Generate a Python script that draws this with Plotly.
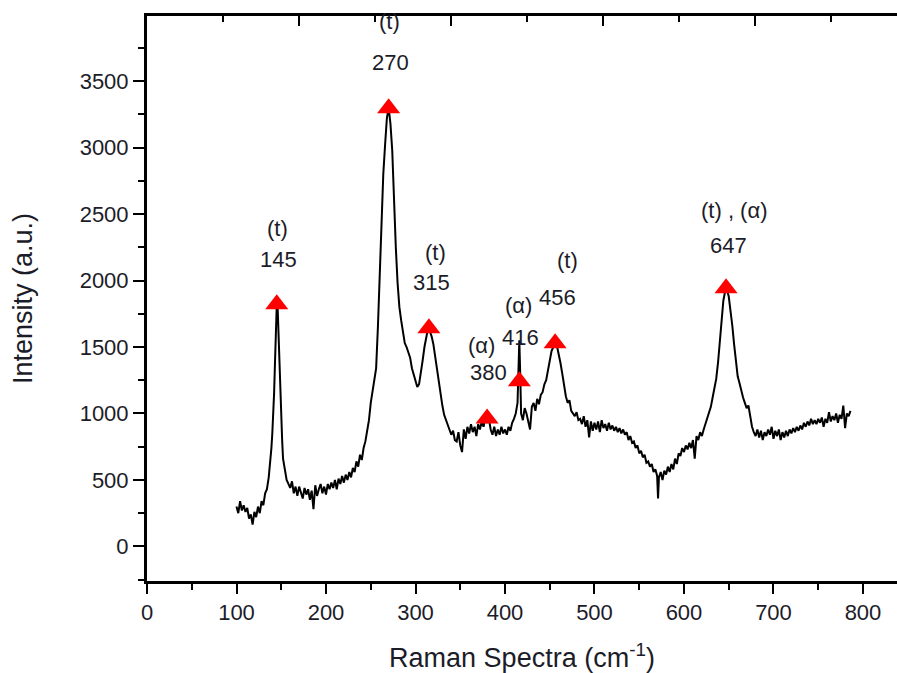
import plotly.graph_objects as go

# ---------------- data ----------------
wavenumber = [
    # 100-130
    100, 102, 104, 106, 108, 110, 112, 114, 116, 118, 120, 122, 124, 126, 128, 130,
    # 132-166 (145 peak)
    132, 134, 136, 138, 139, 140, 141, 142, 143, 144, 145, 146, 147, 148, 149, 150,
    151, 152, 154, 156, 158, 160, 162, 164, 166,
    # 168-244
    168, 170, 172, 174, 176, 178, 180, 182, 184, 186, 188, 190, 192, 194, 196, 198,
    200, 202, 204, 206, 208, 210, 212, 214, 216, 218, 220, 222, 224, 226, 228, 230,
    232, 234, 236, 238, 240, 242, 244,
    # 246-304 (270 peak)
    246, 248, 250, 252, 254, 256, 258, 260, 262, 264, 266, 268, 270, 272, 274, 276,
    278, 280, 282, 284, 286, 288, 290, 292, 294, 296, 298, 300, 302, 304,
    # 306-346 (315 peak)
    306, 308, 310, 312, 314, 316, 318, 320, 322, 324, 326, 328, 330, 332, 334, 336,
    338, 340, 342, 344, 346,
    # 348-414
    348, 350, 352, 354, 356, 358, 360, 362, 364, 366, 368, 370, 372, 374, 376, 378,
    380, 382, 384, 386, 388, 390, 392, 394, 396, 398, 400, 402, 404, 406, 408, 410,
    412, 414,
    # 415-484 (416 spike, 456 peak)
    415, 416, 417, 418, 420, 422, 424, 426, 428, 430, 432, 434, 436, 438, 440, 442,
    444, 446, 448, 450, 452, 454, 456, 458, 460, 462, 464, 466, 468, 470, 472, 474,
    476, 478, 480, 482, 484,
    # 486-592
    486, 488, 490, 492, 494, 496, 498, 500, 502, 504, 506, 508, 510, 512, 514, 516,
    518, 520, 522, 524, 526, 528, 530, 532, 534, 536, 538, 540, 542, 544, 546, 548,
    550, 552, 554, 556, 558, 560, 562, 564, 566, 568, 570, 571, 572, 574, 576, 578,
    580, 582, 584, 586, 588, 590, 592,
    # 594-684 (647 peak)
    594, 596, 598, 600, 602, 604, 606, 608, 610, 612, 614, 616, 618, 620, 622, 624,
    626, 628, 630, 632, 634, 636, 638, 640, 642, 644, 646, 648, 650, 652, 654, 656,
    658, 660, 662, 664, 666, 668, 670, 672, 674, 676, 678, 680, 682, 684,
    # 686-786
    686, 688, 690, 692, 694, 696, 698, 700, 702, 704, 706, 708, 710, 712, 714, 716,
    718, 720, 722, 724, 726, 728, 730, 732, 734, 736, 738, 740, 742, 744, 746, 748,
    750, 752, 754, 756, 758, 760, 762, 764, 766, 768, 770, 772, 774, 776, 778, 780,
    782, 784, 786,
]

intensity = [
    # 100-130
    300, 250, 340, 270, 310, 260, 290, 210, 240, 165, 260, 220, 300, 250, 340, 310,
    # 132-166
    400, 430, 520, 650, 740, 850, 980, 1150, 1380, 1600, 1820, 1790, 1560, 1320, 1120, 960,
    800, 660, 560, 500, 470, 440, 490, 400, 450,
    # 168-244
    380, 450, 410, 360, 440, 390, 430, 350, 420, 280, 460, 380, 430, 470, 400, 450,
    390, 470, 430, 480, 440, 500, 430, 510, 470, 530, 480, 540, 500, 560, 520, 590,
    560, 640, 600, 690, 650, 740, 790,
    # 246-304
    860, 950, 1080, 1170, 1260, 1340, 1650, 2050, 2450, 2800, 3020, 3220, 3300, 3180, 2980, 2560,
    2250, 1980, 1800, 1700, 1620, 1530, 1500, 1450, 1420, 1340, 1290, 1240, 1200, 1220,
    # 306-346
    1300, 1400, 1500, 1580, 1640, 1620, 1580, 1520, 1420, 1320, 1220, 1130, 1060, 990, 950, 910,
    870, 840, 870, 800, 790,
    # 348-414
    860, 760, 710, 880, 810, 900, 850, 920, 860, 900, 830, 920, 880, 940, 900, 960,
    930, 960, 880, 840, 900, 830, 880, 840, 900, 850, 880, 840, 900, 870, 930, 960,
    1000, 1080,
    # 415-484
    1250, 1550, 1300, 1000, 950, 1040, 1000, 930, 880, 1050, 1080, 1020, 1110, 1070, 1140, 1160,
    1220, 1250, 1330, 1400, 1470, 1500, 1530, 1510, 1450, 1380, 1300, 1200, 1130, 1080, 1100, 1020,
    1000, 980, 1010, 950, 960,
    # 486-592
    920, 980, 900, 950, 820, 940, 870, 930, 880, 940, 860, 950, 890, 920, 870, 930,
    880, 910, 870, 900, 860, 890, 850, 880, 840, 860, 800, 830, 780, 790, 740, 760,
    700, 720, 670, 690, 630, 640, 600, 620, 560, 580, 530, 360, 520, 560, 500, 570,
    540, 600, 560, 620, 580, 660, 620,
    # 594-684
    700, 680, 740, 710, 760, 730, 780, 740, 800, 660, 830, 800, 860, 830, 880, 920,
    960, 1000, 1050, 1120, 1180, 1260, 1380, 1560, 1720, 1850, 1920, 1930, 1880, 1780, 1660, 1520,
    1400, 1280, 1230, 1170, 1120, 1080, 1040, 1060, 980, 900, 860, 830, 880, 820,
    # 686-786
    870, 800, 860, 830, 880, 840, 900, 810, 870, 830, 880, 800, 860, 820, 870, 830,
    880, 850, 890, 860, 900, 870, 910, 880, 930, 900, 940, 910, 960, 920, 950, 920,
    960, 930, 970, 900, 960, 930, 1010, 940, 980, 950, 1000, 930, 990, 960, 1060, 890,
    1000, 980, 1020,
]
assert len(wavenumber) == len(intensity)

peak_x = [145, 270, 315, 380, 416, 456, 647]
peak_y = [1821, 3297, 1641, 963, 1242, 1528, 1942]

label_text = ["(t)", "145", "(t)", "270", "(t)", "315", "(α)", "380",
              "(α)", "416", "(t)", "456", "(t) , (α)", "647"]
label_x = [146, 147, 271, 272, 322, 318, 374, 382, 415, 417, 470, 459, 656, 650]
label_y = [2394, 2161, 3945, 3643, 2213, 1987, 1513, 1310, 1814, 1573, 2153, 1874, 2529, 2266]

x_ticks = [0, 100, 200, 300, 400, 500, 600, 700, 800]
y_ticks = [0, 500, 1000, 1500, 2000, 2500, 3000, 3500]

FONT = "Liberation Sans, Arial, sans-serif"
TXT = "#1c1c28"

fig = go.Figure()
fig.add_trace(go.Scatter(x=wavenumber, y=intensity, mode="lines",
                         line=dict(color="black", width=2),
                         showlegend=False, hoverinfo="skip"))
fig.add_trace(go.Scatter(x=peak_x, y=peak_y, mode="markers",
                         marker=dict(symbol="triangle-up", size=20, color="#ff0000",
                                     line=dict(width=0)),
                         showlegend=False, hoverinfo="skip"))
# dummy trace so that the top axis is drawn
fig.add_trace(go.Scatter(x=[None], y=[None], xaxis="x2", yaxis="y",
                         showlegend=False, hoverinfo="skip"))

for t, xx, yy in zip(label_text, label_x, label_y):
    fig.add_annotation(x=xx, y=yy, text=t, showarrow=False,
                       font=dict(family=FONT, size=22, color=TXT),
                       xanchor="center", yanchor="middle")

fig.update_layout(
    width=897, height=673,
    margin=dict(l=147, r=0, t=16, b=92),
    paper_bgcolor="white", plot_bgcolor="white",
    font=dict(family=FONT, color=TXT),
    xaxis=dict(range=[0, 838], tickvals=x_ticks, ticks="outside", ticklen=10,
               tickwidth=2, tickcolor="black", showline=True, linewidth=3,
               linecolor="black", showgrid=False, zeroline=False,
               tickfont=dict(size=22, family=FONT, color=TXT),
               minor=dict(dtick=50, ticks="outside", ticklen=6, tickwidth=2,
                          tickcolor="black", showgrid=False),
               title=dict(text="Raman Spectra (cm<sup>-1</sup>)",
                          font=dict(size=27, family=FONT, color=TXT), standoff=26)),
    xaxis2=dict(overlaying="x", side="top", range=[0, 9.87], tickvals=[2, 4, 6, 8],
                ticks="inside", ticklen=10, tickwidth=2, tickcolor="black",
                showticklabels=False, showline=True, linewidth=3, linecolor="black",
                showgrid=False, zeroline=False,
                minor=dict(tickvals=[1, 3, 5, 7, 9], ticks="inside", ticklen=6,
                           tickwidth=2, tickcolor="black", showgrid=False)),
    yaxis=dict(range=[-260, 3990], tickvals=y_ticks, ticks="outside", ticklen=11,
               tickwidth=2, tickcolor="black", showline=True, linewidth=3,
               linecolor="black", showgrid=False, zeroline=False,
               tickfont=dict(size=22, family=FONT, color=TXT),
               minor=dict(dtick=250, ticks="outside", ticklen=6, tickwidth=2,
                          tickcolor="black", showgrid=False),
               title=dict(text="Intensity (a.u.)",
                          font=dict(size=27, family=FONT, color=TXT), standoff=40)),
)

fig.write_html("out.html")
